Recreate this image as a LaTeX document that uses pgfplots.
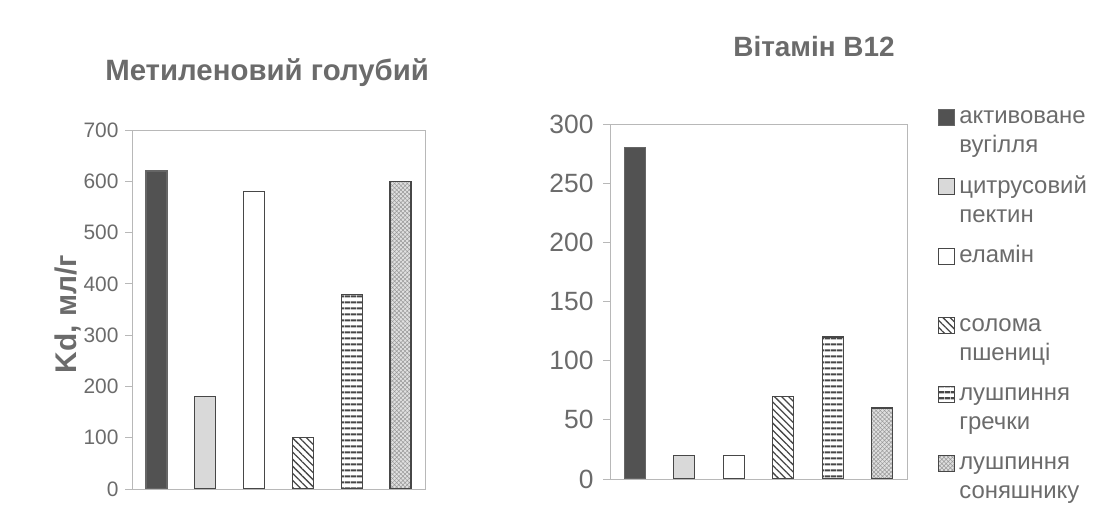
\documentclass[border=0pt]{standalone}
\usepackage{fontspec}
\setmainfont{Liberation Sans}
\usepackage{pgfplots}
\pgfplotsset{compat=1.18}
\usetikzlibrary{patterns,patterns.meta}
\definecolor{txt}{gray}{0.42}
\definecolor{axc}{gray}{0.72}
\definecolor{edge}{gray}{0.28}
\newcommand\lent[2]{\smash{\fontsize{24}{29}\selectfont\begin{tabular}[t]{@{}l@{}}#1\\#2\end{tabular}}}
\pgfplotsset{
  lg/.style={legend image code/.code={\draw[##1,line width=1bp] (0bp,-1.8bp) rectangle (16bp,14.2bp); \path (0bp,-49bp) (0bp,19bp);}},
  b1/.style={fill=black!68, draw=black!60, line width=1.2bp, lg},
  b2/.style={fill=black!15, draw=edge, line width=1.2bp, lg},
  b3/.style={fill=white, draw=edge, line width=1.2bp, lg},
  b4/.style={draw=edge, line width=1.2bp, pattern={Lines[angle=-45,distance=5bp,line width=1.3bp]}, pattern color=edge, lg},
  b5/.style={draw=edge, line width=1.2bp, pattern={Lines[angle=0,distance=6bp,line width=2.4bp]}, pattern color=edge, lg},
  b6/.style={draw=edge, line width=1.2bp, fill=black!12, postaction={pattern={Hatch[angle=45,distance=3bp,line width=0.5bp]}, pattern color=black!40}, lg},
  common/.style={
    scale only axis, ybar, bar width=21bp, bar shift=0pt,
    xmin=-0.5, xmax=5.5, xtick=\empty, ymin=0,
    axis line style={draw=axc, line width=0.9bp},
    ytick pos=left, tick align=outside, major tick length=7bp,
    ytick style={draw=axc, line width=0.9bp},
    /pgf/number format/assume math mode=true,
    yticklabel style={text=txt},
    title style={text=txt, anchor=base},
  },
}
\begin{document}
\begin{tikzpicture}
\useasboundingbox (0,0) rectangle (1094bp,506bp);
\begin{axis}[common, at={(132bp,17bp)}, anchor=south west,
  width=293bp, height=359bp, ymax=700, ytick={0,100,...,700},
  yticklabel style={font=\fontsize{21}{24}\selectfont, xshift=-3bp},
  title={Метиленовий голубий},
  title style={font=\fontsize{29.5}{32}\selectfont\bfseries, at={(axis description cs:0.461,1.12)}},
  ylabel={Kd, мл/г},
  ylabel style={font=\fontsize{30}{32}\selectfont\bfseries, text=txt, at={(axis description cs:-0.218,0.487)}, anchor=center},
]
\addplot[b1] coordinates {(0,620)};
\addplot[b2] coordinates {(1,180)};
\addplot[b3] coordinates {(2,580)};
\addplot[b4] coordinates {(3,100)};
\addplot[b5] coordinates {(4,380)};
\addplot[b6] coordinates {(5,600)};
\end{axis}
\begin{axis}[common, at={(610bp,27bp)}, anchor=south west,
  width=297bp, height=355bp, ymax=300, ytick={0,50,...,300},
  yticklabel style={font=\fontsize{26.5}{28}\selectfont, xshift=-6bp},
  title={Вітамін В12},
  title style={font=\fontsize{28}{32}\selectfont\bfseries, at={(axis description cs:0.687,1.172)}},
  legend style={at={(axis description cs:1.1044,1.056)}, anchor=north west, draw=none, fill=none,
    inner sep=0pt, row sep=0pt, column sep=4bp, font=\fontsize{24}{29}\selectfont, text=txt,
    cells={anchor=base west}, nodes={inner sep=0pt}},
]
\addplot[b1] coordinates {(0,280)};
\addlegendentry{\lent{активоване}{вугілля}}
\addplot[b2] coordinates {(1,20)};
\addlegendentry{\lent{цитрусовий}{пектин}}
\addplot[b3] coordinates {(2,20)};
\addlegendentry{\lent{еламін}{}}
\addplot[b4] coordinates {(3,70)};
\addlegendentry{\lent{солома}{пшениці}}
\addplot[b5] coordinates {(4,120)};
\addlegendentry{\lent{лушпиння}{гречки}}
\addplot[b6] coordinates {(5,60)};
\addlegendentry{\lent{лушпиння}{соняшнику}}
\end{axis}
\end{tikzpicture}
\end{document}
